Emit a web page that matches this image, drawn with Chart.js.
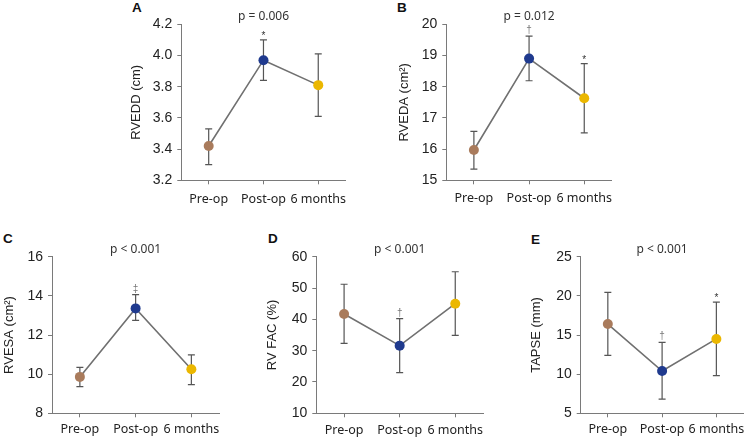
<!DOCTYPE html>
<html><head><meta charset="utf-8">
<script src="https://cdn.jsdelivr.net/npm/chart.js@4"></script>
<style>
body{margin:0;background:#fff;width:750px;height:439px;overflow:hidden;position:relative}
canvas{position:absolute}
.lab{position:absolute;font:bold 13.5px "Liberation Sans",Arial,sans-serif;color:#111;line-height:13px}
</style></head><body>
<div class="lab" style="left:132px;top:1px">A</div>
<div class="lab" style="left:397px;top:1px">B</div>
<div class="lab" style="left:3px;top:232px">C</div>
<div class="lab" style="left:268px;top:232px">D</div>
<div class="lab" style="left:531px;top:233px">E</div>
<canvas id="cA" width="255" height="215" style="left:100px;top:0px"></canvas>
<canvas id="cB" width="240" height="215" style="left:380px;top:0px"></canvas>
<canvas id="cC" width="225" height="214" style="left:0px;top:225px"></canvas>
<canvas id="cD" width="235" height="214" style="left:255px;top:225px"></canvas>
<canvas id="cE" width="235" height="214" style="left:515px;top:225px"></canvas>
<script>
// ---- data ----
const categories = ['Pre-op', 'Post-op', '6 months'];
const pointColors = ['#a97b5c', '#1f3a8e', '#ebb700'];

const rveddMean = [3.42, 3.97, 3.81];
const rveddLow  = [3.30, 3.84, 3.61];
const rveddHigh = [3.53, 4.10, 4.01];
const rveddTicks = ['3.2', '3.4', '3.6', '3.8', '4.0', '4.2'];
const rveddMarks = ['', '*', ''];

const rvedaMean = [15.97, 18.90, 17.63];
const rvedaLow  = [15.36, 18.19, 16.52];
const rvedaHigh = [16.57, 19.62, 18.74];
const rvedaTicks = ['15', '16', '17', '18', '19', '20'];
const rvedaMarks = ['', '†', '*'];

const rvesaMean = [9.86, 13.36, 10.25];
const rvesaLow  = [9.36, 12.75, 9.46];
const rvesaHigh = [10.35, 14.06, 10.98];
const rvesaTicks = ['8', '10', '12', '14', '16'];
const rvesaMarks = ['', '‡', ''];

const rvfacMean = [41.7, 31.6, 45.0];
const rvfacLow  = [32.3, 23.0, 34.9];
const rvfacHigh = [51.2, 40.2, 55.2];
const rvfacTicks = ['10', '20', '30', '40', '50', '60'];
const rvfacMarks = ['', '†', ''];

const tapseMean = [16.4, 10.4, 14.5];
const tapseLow  = [12.4, 6.8, 9.8];
const tapseHigh = [20.45, 14.06, 19.2];
const tapseTicks = ['5', '10', '15', '20', '25'];
const tapseMarks = ['', '†', '*'];

const pTexts = ['p = 0.006', 'p = 0.012', 'p < 0.001', 'p < 0.001', 'p < 0.001'];
const yTitles = ['RVEDD (cm)', 'RVEDA (cm²)', 'RVESA (cm²)', 'RV FAC (%)', 'TAPSE (mm)'];

// ---- layout (pixels) ----
const panels = [
  {canvas:'cA', cl:100, ct:0,   cw:255, ch:215, L:181.3, R:349.3, T:24.3,  B:180.3, titleX:136, xpad:8,
   mean:rveddMean, low:rveddLow, high:rveddHigh, ticks:rveddTicks, marks:rveddMarks, p:pTexts[0], yt:yTitles[0]},
  {canvas:'cB', cl:380, ct:0,   cw:240, ch:215, L:446.3, R:614.3, T:24.3,  B:180.3, titleX:404, xpad:7,
   mean:rvedaMean, low:rvedaLow, high:rvedaHigh, ticks:rvedaTicks, marks:rvedaMarks, p:pTexts[1], yt:yTitles[1]},
  {canvas:'cC', cl:0,   ct:225, cw:225, ch:214, L:52,    R:220,   T:256.7, B:413.3, titleX:9,   xpad:5,
   mean:rvesaMean, low:rvesaLow, high:rvesaHigh, ticks:rvesaTicks, marks:rvesaMarks, p:pTexts[2], yt:yTitles[2]},
  {canvas:'cD', cl:255, ct:225, cw:235, ch:214, L:316.3, R:484.3, T:256.7, B:413.3, titleX:272, xpad:6,
   mean:rvfacMean, low:rvfacLow, high:rvfacHigh, ticks:rvfacTicks, marks:rvfacMarks, p:pTexts[3], yt:yTitles[3]},
  {canvas:'cE', cl:515, ct:225, cw:235, ch:214, L:580.7, R:748.7, T:256.7, B:413.3, titleX:536, xpad:5,
   mean:tapseMean, low:tapseLow, high:tapseHigh, ticks:tapseTicks, marks:tapseMarks, p:pTexts[4], yt:yTitles[4]}
];

const AXIS = '#7a7a7a';

function makeChart(pn) {
  const tickVals = pn.ticks.map(Number);
  const yW = pn.L - pn.cl;
  const xH = pn.ct + pn.ch - pn.B;
  const overlay = {
    id: 'errbars',
    beforeDatasetsDraw(chart) {
      const {ctx, scales: {x, y}} = chart;
      ctx.save();
      ctx.strokeStyle = '#555';
      ctx.lineWidth = 1.2;
      pn.low.forEach((lo, i) => {
        const px = x.getPixelForValue(i);
        const yl = y.getPixelForValue(lo);
        const yh = y.getPixelForValue(pn.high[i]);
        ctx.beginPath();
        ctx.moveTo(px, yl); ctx.lineTo(px, yh);
        ctx.moveTo(px - 3.5, yl); ctx.lineTo(px + 3.5, yl);
        ctx.moveTo(px - 3.5, yh); ctx.lineTo(px + 3.5, yh);
        ctx.stroke();
      });
      ctx.restore();
    },
    afterDatasetsDraw(chart) {
      const {ctx, scales: {x, y}, chartArea} = chart;
      ctx.save();
      ctx.textAlign = 'center';
      ctx.font = '10px "Liberation Sans", Arial, sans-serif';
      ctx.textBaseline = 'alphabetic';
      pn.marks.forEach((m, i) => {
        if (!m) return;
        const px = x.getPixelForValue(i);
        const yh = y.getPixelForValue(pn.high[i]);
        ctx.fillStyle = m === '*' ? '#333' : '#777';
        ctx.fillText(m, px, yh - (m === '*' ? 1 : 3));
      });
      ctx.fillStyle = '#333';
      ctx.font = '12px "Noto Sans", sans-serif';
      ctx.textBaseline = 'middle';
      ctx.fillText(pn.p, x.getPixelForValue(1), chartArea.top - 7.5);
      ctx.restore();
    }
  };
  return new Chart(document.getElementById(pn.canvas), {
    type: 'line',
    data: {
      labels: categories,
      datasets: [{
        data: pn.mean,
        borderColor: '#707070',
        borderWidth: 1.6,
        pointRadius: 5,
        pointHoverRadius: 5,
        pointBackgroundColor: pointColors,
        pointBorderColor: pointColors,
        pointBorderWidth: 0,
        tension: 0,
        clip: false
      }]
    },
    options: {
      responsive: false,
      animation: false,
      devicePixelRatio: 1,
      layout: {padding: {left: 0, right: pn.cl + pn.cw - pn.R, top: pn.T - pn.ct, bottom: 0}},
      plugins: {legend: {display: false}, tooltip: {enabled: false}},
      scales: {
        x: {
          type: 'category',
          offset: true,
          grid: {display: true, drawOnChartArea: false, drawTicks: true, tickLength: 4, color: AXIS, offset: false},
          border: {display: true, color: AXIS, width: 1},
          ticks: {color: '#222', font: {family: '"Noto Sans", sans-serif', size: 12.5}, padding: pn.xpad, maxRotation: 0, autoSkip: false},
          afterFit(s) { s.height = xH; }
        },
        y: {
          min: tickVals[0],
          max: tickVals[tickVals.length - 1],
          grid: {display: true, drawOnChartArea: false, drawTicks: true, tickLength: 4, color: AXIS},
          border: {display: true, color: AXIS, width: 1},
          afterBuildTicks(s) { s.ticks = tickVals.map(v => ({value: v})); },
          ticks: {
            color: '#222',
            font: {family: '"Liberation Sans", Arial, sans-serif', size: 14},
            padding: 5,
            callback: (v, i) => pn.ticks[i]
          },
          title: {
            display: true,
            text: pn.yt,
            color: '#222',
            font: {family: '"Liberation Sans", Arial, sans-serif', size: 13},
            padding: {top: pn.titleX - pn.cl - 7.8, bottom: 0}
          },
          afterFit(s) { s.width = yW; }
        }
      }
    },
    plugins: [overlay]
  });
}
panels.forEach(makeChart);
</script>
</body></html>
